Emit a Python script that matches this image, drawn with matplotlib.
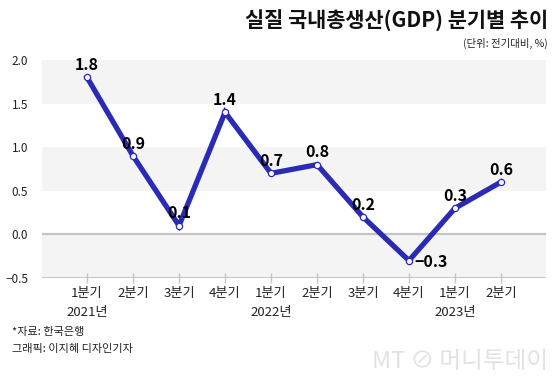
import matplotlib
matplotlib.use("Agg")
import matplotlib.pyplot as plt

plt.rcParams['font.family'] = ['Noto Sans CJK KR', 'DejaVu Sans']

quarters = ['1분기', '2분기', '3분기', '4분기', '1분기', '2분기', '3분기', '4분기', '1분기', '2분기']
years = ['2021년', '2022년', '2023년']
year_pos = [0, 4, 8]
growth = [1.8, 0.9, 0.1, 1.4, 0.7, 0.8, 0.2, -0.3, 0.3, 0.6]
labels = ['1.8', '0.9', '0.1', '1.4', '0.7', '0.8', '0.2', '\u22120.3', '0.3', '0.6']
yticks = [-0.5, 0.0, 0.5, 1.0, 1.5, 2.0]
ytick_labels = ['\u22120.5', '0.0', '0.5', '1.0', '1.5', '2.0']

fig = plt.figure(figsize=(5.6, 3.79), dpi=100)
ax = fig.add_axes([0.075, 0.2665, 0.9, 0.5752])
x = list(range(len(growth)))

# alternating bands
for lo, hi in [(1.5, 2.0), (0.5, 1.0), (-0.5, 0.0)]:
    ax.axhspan(lo, hi, color='#f4f4f4', lw=0, zorder=0)
ax.axhline(0, color='#c4c4c4', lw=1.6, zorder=1)
ax.axhline(-0.5, color='#c4c4c4', lw=1.4, zorder=1)

ax.plot(x, growth, color='#2a2ab4', lw=3.8, zorder=3, solid_joinstyle='miter')
ax.plot(x, growth, 'o', ms=4.5, mfc='white', mec='#2a2ab4', mew=0.9, zorder=4)

for xi, v, s in zip(x, growth, labels):
    if v < 0:
        ax.text(xi + 0.12, v - 0.02, s, ha='left', va='center', fontsize=11.5,
                fontweight='bold', color='black', zorder=5)
    else:
        ax.text(xi, v + 0.05, s, ha='center', va='bottom', fontsize=11.5,
                fontweight='bold', color='black', zorder=5)

ax.set_xlim(-0.98, 9.98)
ax.set_ylim(-0.5, 2.0)
ax.set_yticks(yticks)
ax.set_yticklabels(ytick_labels, fontsize=8.5, color='#222222')
ax.tick_params(axis='y', length=0, pad=10)
ax.set_xticks(x)
ax.set_xticklabels(quarters, fontsize=9.5, color='#222222')
ax.tick_params(axis='x', direction='inout', length=7, color='#c4c4c4', width=1, pad=3)
for sp in ax.spines.values():
    sp.set_visible(False)

for p, yr in zip(year_pos, years):
    ax.text(p, -0.9, yr, ha='center', va='center', fontsize=9.5, color='#222222')

fig.text(0.978, 0.945, '실질 국내총생산(GDP) 분기별 추이', ha='right', va='center',
         fontsize=15, fontweight='bold', color='#111111')
fig.text(0.978, 0.885, '(단위: 전기대비, %)', ha='right', va='center',
         fontsize=7.5, color='#222222')
fig.text(0.022, 0.125, '*자료: 한국은행', ha='left', va='center', fontsize=8, color='#222222')
fig.text(0.022, 0.078, '그래픽: 이지혜 디자인기자', ha='left', va='center', fontsize=8, color='#222222')
fig.text(0.978, 0.045, 'MT ⊘ 머니투데이', ha='right', va='center', fontsize=17,
         color='#e2e2e2', fontweight='light', family=['Noto Sans CJK KR', 'DejaVu Sans'])

fig.savefig('out.png', dpi=100, facecolor='white')
